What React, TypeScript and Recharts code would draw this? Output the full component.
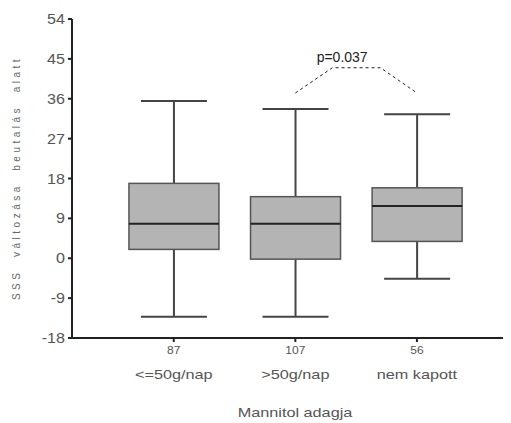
import React from 'react';
import { ComposedChart, Bar, Line, XAxis, YAxis, ReferenceDot, Label } from 'recharts';

const categories = ['<=50g/nap', '>50g/nap', 'nem kapott'];
const counts = ['87', '107', '56'];
const positions = [1, 2, 3];
const whiskerLow = [-13.2, -13.2, -4.6];
const q1 = [2.0, -0.2, 3.8];
const median = [7.8, 7.8, 11.8];
const q3 = [16.9, 13.9, 15.9];
const whiskerHigh = [35.5, 33.7, 32.5];
const yTicks = [-18, -9, 0, 9, 18, 27, 36, 45, 54];

const pLineX = [2, 2.305, 2.7, 3];
const pLineY = [37.3, 43, 43, 37.3];
const pText = 'p=0.037';
const pTextPos = { x: 2.385, y: 44.2 };

const yLabel = 'SSS  változása  beutalás  alatt';
const xLabel = 'Mannitol adagja';

const FONT = 'Arial, Liberation Sans, sans-serif';

const data = positions.map((p, i) => ({
  x: p,
  range: [whiskerLow[i], whiskerHigh[i]],
  lo: whiskerLow[i],
  q1: q1[i],
  med: median[i],
  q3: q3[i],
  hi: whiskerHigh[i],
}));

const pLineData = pLineX.map((x, i) => ({ x, py: pLineY[i] }));

const BoxShape = (props: any) => {
  const { x, y, width, height, payload } = props;
  const top = Math.min(y, y + height);
  const h = Math.abs(height);
  const { lo, hi } = payload;
  const py = (v: number) => top + (h * (hi - v)) / (hi - lo);
  const cx = x + width / 2;
  const capHalf = 33;
  const boxHalf = 45;
  const yHi = py(hi);
  const yLo = py(lo);
  const yQ3 = py(payload.q3);
  const yQ1 = py(payload.q1);
  const yMed = py(payload.med);
  return (
    <g>
      <line x1={cx} x2={cx} y1={yHi} y2={yQ3} stroke="#444" strokeWidth={2} />
      <line x1={cx} x2={cx} y1={yQ1} y2={yLo} stroke="#444" strokeWidth={2} />
      <line x1={cx - capHalf} x2={cx + capHalf} y1={yHi} y2={yHi} stroke="#444" strokeWidth={2} />
      <line x1={cx - capHalf} x2={cx + capHalf} y1={yLo} y2={yLo} stroke="#444" strokeWidth={2} />
      <rect x={cx - boxHalf} y={yQ3} width={boxHalf * 2} height={yQ1 - yQ3} fill="#b4b4b4" stroke="#555" strokeWidth={1.5} />
      <line x1={cx - boxHalf} x2={cx + boxHalf} y1={yMed} y2={yMed} stroke="#222" strokeWidth={2} />
    </g>
  );
};

const XTick = (props: any) => {
  const { x, y, payload } = props;
  const i = positions.indexOf(payload.value);
  if (i < 0) return null;
  return (
    <g>
      <text transform={`translate(${x} ${y + 10}) scale(1.2 1)`} textAnchor="middle" fontSize={10} fill="#555" fontFamily={FONT}>
        {counts[i]}
      </text>
      <text transform={`translate(${x} ${y + 35}) scale(1.25 1)`} textAnchor="middle" fontSize={13} fill="#555" fontFamily={FONT}>
        {categories[i]}
      </text>
    </g>
  );
};

const YTick = (props: any) => {
  const { x, y, payload } = props;
  return (
    <text transform={`translate(${x} ${y + 5}) scale(1.15 1)`} textAnchor="end" fontSize={14} fill="#555" fontFamily={FONT}>
      {payload.value}
    </text>
  );
};

export default function App() {
  return (
    <ComposedChart width={503} height={415} data={data} margin={{ top: 11, right: 3, left: 0, bottom: 1 }}>
      <XAxis
        dataKey="x"
        type="number"
        domain={[0.163, 3.749]}
        allowDataOverflow
        ticks={positions}
        tick={<XTick />}
        tickSize={4}
        tickMargin={2}
        height={84}
        axisLine={{ stroke: '#222', strokeWidth: 2 }}
        tickLine={{ stroke: '#222', strokeWidth: 2 }}
      >
        <Label
          content={() => (
            <text transform="translate(287 409) scale(1.25 1)" textAnchor="middle" fontSize={13} fill="#555" fontFamily={FONT}>
              {xLabel}
            </text>
          )}
        />
      </XAxis>
      <YAxis
        type="number"
        domain={[-18, 54]}
        ticks={yTicks}
        allowDataOverflow
        width={64}
        tickSize={4}
        tickMargin={3}
        tick={<YTick />}
        axisLine={{ stroke: '#222', strokeWidth: 2 }}
        tickLine={{ stroke: '#222', strokeWidth: 2 }}
      >
        <Label
          content={() => (
            <text
              transform="translate(12 170) rotate(-90)"
              textAnchor="middle"
              fontSize={10}
              letterSpacing={3.5}
              fill="#666"
              style={{ whiteSpace: 'pre' }}
              fontFamily={FONT}
            >
              {yLabel}
            </text>
          )}
        />
      </YAxis>
      <Bar dataKey="range" barSize={91} shape={<BoxShape />} isAnimationActive={false} />
      <Line
        data={pLineData}
        dataKey="py"
        stroke="#222"
        strokeWidth={1}
        strokeDasharray="3 3"
        dot={false}
        activeDot={false}
        isAnimationActive={false}
      />
      <ReferenceDot
        x={pTextPos.x}
        y={pTextPos.y}
        r={0}
        fill="none"
        stroke="none"
        label={(p: any) => (
          <text
            x={p.viewBox.x + (p.viewBox.width || 0) / 2}
            y={p.viewBox.y + (p.viewBox.height || 0) / 2}
            textAnchor="middle"
            fontSize={14}
            fill="#222"
            fontFamily={FONT}
          >
            {pText}
          </text>
        )}
      />
    </ComposedChart>
  );
}
